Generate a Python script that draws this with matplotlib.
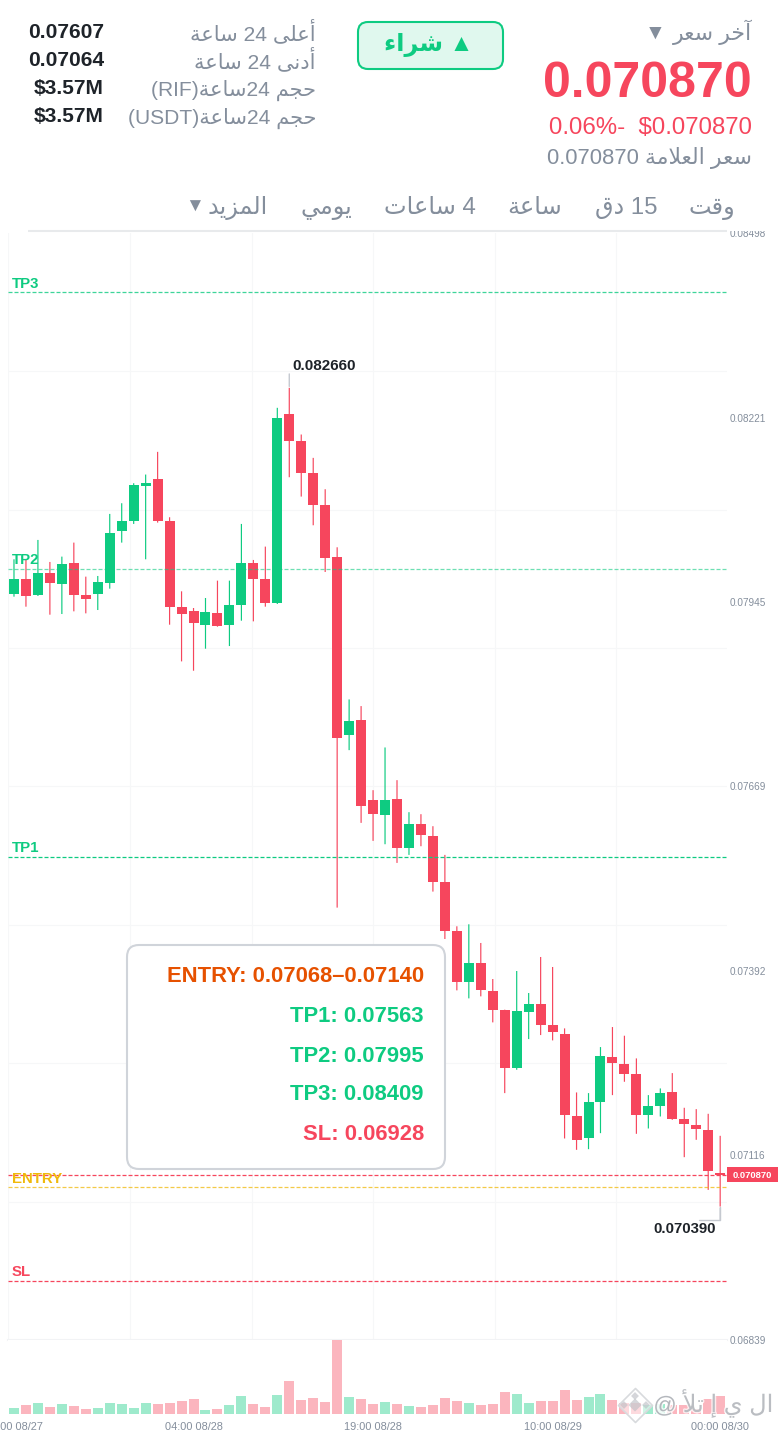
import re
import matplotlib
matplotlib.use('Agg')
import matplotlib.pyplot as plt
import matplotlib.patheffects as pe
import numpy as np
from matplotlib.patches import FancyBboxPatch
from matplotlib.transforms import Bbox, TransformedBbox, IdentityTransform

plt.rcParams['font.family'] = ['Liberation Sans', 'DejaVu Sans']

# prices in 1e-5 units, hourly candles
opens = [7957, 7979, 7955, 7989, 7972, 8003, 7955, 7957, 7974, 8052,
         8067, 8119, 8129, 8066, 7938, 7931, 7911, 7929, 7910, 7940,
         8003, 7979, 7943, 8227, 8187, 8139, 8090, 8013, 7745, 7768,
         7648, 7626, 7650, 7577, 7612, 7594, 7525, 7452, 7375, 7404,
         7362, 7333, 7247, 7331, 7343, 7311, 7298, 7175, 7141, 7196,
         7263, 7253, 7237, 7176, 7189, 7210, 7170, 7161, 7153, 7090]
closes = [7980, 7954, 7989, 7973, 8002, 7955, 7950, 7975, 8048, 8066,
          8121, 8124, 8067, 7938, 7927, 7914, 7930, 7909, 7940, 8003,
          7980, 7943, 8221, 8187, 8138, 8090, 8011, 7741, 7766, 7640,
          7628, 7649, 7576, 7612, 7596, 7526, 7452, 7376, 7404, 7363,
          7334, 7246, 7332, 7343, 7311, 7300, 7176, 7139, 7195, 7264,
          7254, 7238, 7176, 7189, 7209, 7170, 7162, 7155, 7092, 7087]
highs = [8009, 8008, 8038, 8005, 8013, 8034, 7983, 7984, 8077, 8093,
         8123, 8136, 8170, 8072, 7961, 7936, 7951, 7977, 7977, 8062,
         8008, 8028, 8236, 8266, 8196, 8161, 8114, 8027, 7799, 7789,
         7663, 7727, 7678, 7630, 7627, 7609, 7566, 7459, 7462, 7434,
         7380, 7334, 7392, 7359, 7413, 7398, 7306, 7210, 7209, 7278,
         7308, 7295, 7261, 7206, 7216, 7239, 7187, 7185, 7178, 7145]
lows = [7953, 7938, 7954, 7926, 7927, 7931, 7928, 7933, 7965, 8034,
        8062, 8009, 8064, 7911, 7856, 7842, 7875, 7908, 7879, 7917,
        7916, 7938, 7942, 8132, 8103, 8060, 7990, 7487, 7723, 7614,
        7587, 7582, 7554, 7566, 7579, 7511, 7440, 7363, 7351, 7354,
        7315, 7209, 7244, 7290, 7296, 7288, 7141, 7124, 7125, 7149,
        7206, 7226, 7148, 7156, 7174, 7169, 7113, 7139, 7064, 7039]
volumes = [5.7, 8.7, 10.7, 7.3, 10.0, 8.0, 4.7, 6.0, 10.7, 9.7,
           6.0, 11.0, 10.0, 11.3, 13.0, 14.7, 4.0, 5.3, 8.7, 18.3,
           9.7, 7.0, 19.3, 33.3, 14.0, 16.0, 12.0, 74.0, 16.7, 15.0,
           9.7, 12.0, 9.7, 7.7, 6.7, 9.3, 15.7, 13.0, 11.0, 9.0,
           10.0, 21.7, 20.0, 11.0, 12.7, 12.7, 24.0, 14.0, 16.7, 20.0,
           14.0, 10.7, 10.7, 9.0, 10.0, 8.7, 9.3, 5.3, 14.7, 18.3]

price_ticks = [0.08498, 0.08221, 0.07945, 0.07669, 0.07392, 0.07116, 0.06839]
time_idx = [0, 15, 30, 45, 59]
time_labels = ['13:00 08/27', '04:00 08/28', '19:00 08/28', '10:00 08/29', '00:00 08/30']

level_names = ['TP3', 'TP2', 'TP1', 'ENTRY', 'SL']
level_prices = [0.08409, 0.07995, 0.07563, 0.07068, 0.06928]
last_price = 0.07087

box_lines = ['ENTRY: 0.07068–0.07140', 'TP1: 0.07563', 'TP2: 0.07995', 'TP3: 0.08409', 'SL: 0.06928']

stat_labels = ['أعلى 24 ساعة', 'أدنى 24 ساعة', 'حجم 24ساعة(RIF)', 'حجم 24ساعة(USDT)']
stat_values = ['0.07607', '0.07064', '$3.57M', '$3.57M']
tab_labels = ['وقت', '15 دق', 'ساعة', '4 ساعات', 'يومي', 'المزيد']

GREEN = '#0ECB81'
RED = '#F6465D'
GOLD = '#F0B90B'
GREY = '#848E9C'
DARK = '#1E2329'
GRID = '#F6F7F8'

# forms: isolated, final, initial, medial
FORMS = {'ء': 0xFE80, 'آ': 0xFE81, 'أ': 0xFE83, 'إ': 0xFE87, 'ا': 0xFE8D, 'ب': 0xFE8F,
         'ة': 0xFE93, 'ت': 0xFE95, 'ج': 0xFE9D, 'ح': 0xFEA1, 'خ': 0xFEA5, 'د': 0xFEA9,
         'ر': 0xFEAD, 'ز': 0xFEAF, 'س': 0xFEB1, 'ش': 0xFEB5, 'ع': 0xFEC9, 'ق': 0xFED5,
         'ل': 0xFEDD, 'م': 0xFEE1, 'ن': 0xFEE5, 'و': 0xFEED, 'ى': 0xFEEF, 'ي': 0xFEF1}
NO_NEXT = set('ءآأإادرزوةى')
LAM_ALEF = {'ا': 0xFEFB, 'أ': 0xFEF7, 'آ': 0xFEF5, 'إ': 0xFEF9}


def shape_word(word):
    out = []
    i = 0
    prev_joins = False
    while i < len(word):
        ch = word[i]
        nxt = word[i + 1] if i + 1 < len(word) else ''
        if ch == 'ل' and nxt in LAM_ALEF:
            out.append(chr(LAM_ALEF[nxt] + (1 if prev_joins else 0)))
            prev_joins = False
            i += 2
            continue
        joins_next = ch not in NO_NEXT and nxt in FORMS
        if prev_joins and joins_next:
            code = FORMS[ch] + 3
        elif joins_next:
            code = FORMS[ch] + 2
        elif prev_joins:
            code = FORMS[ch] + 1
        else:
            code = FORMS[ch]
        out.append(chr(code))
        prev_joins = joins_next
        i += 1
    return ''.join(out)


def ar(text):
    # matplotlib does no shaping or bidi, so give it the visual order
    runs = re.findall(r'[\u0621-\u064A ]+|[^\u0621-\u064A ]+', text)
    result = []
    for run in reversed(runs):
        if re.match(r'[\u0621-\u064A ]', run):
            words = re.split(r'( +)', run)
            result.append(''.join(shape_word(w) if w.strip() else w for w in words)[::-1])
        else:
            result.append(run)
    return ''.join(result)


def px(size):
    return size * 0.72


W, H = 780, 1432
fig = plt.figure(figsize=(W / 100, H / 100), dpi=100, facecolor='white')


def axes_px(x0, y0, x1, y1):
    return fig.add_axes([x0 / W, 1 - y1 / H, (x1 - x0) / W, (y1 - y0) / H])


opens_p = np.array(opens) / 1e5
closes_p = np.array(closes) / 1e5
highs_p = np.array(highs) / 1e5
lows_p = np.array(lows) / 1e5
idx = np.arange(len(opens))
up = [c >= o for o, c in zip(opens, closes)]
colors = [GREEN if u else RED for u in up]

x_lim = (-0.5, 59.57)

ax = axes_px(8, 233, 727, 1340)
ax.set_xlim(x_lim)
ax.set_ylim(0.06839, 0.08498)
for s in ax.spines.values():
    s.set_visible(False)
ax.set_xticks([])
ax.set_xticks([-0.5, 9.69, 19.88, 30.03, 40.2, 50.3], minor=True)
ax.set_yticks(np.linspace(0.06839, 0.08498, 9), minor=True)
ax.grid(which='minor', color=GRID, lw=0.8, zorder=0)
ax.tick_params(which='minor', length=0)
ax.yaxis.tick_right()
ax.set_yticks(price_ticks)
ax.set_yticklabels([f'{p:.5f}' for p in price_ticks], fontsize=px(10), color=GREY)
ax.tick_params(axis='y', which='major', length=0, pad=2)
ax.set_axisbelow(True)
ax.axhline(0.06839, color='#F2F3F5', lw=1.5, clip_on=False, zorder=1)

# top label is cut by the tab bar
top_clip = TransformedBbox(Bbox([[0, 0], [W, H - 231]]), IdentityTransform())
for tick in ax.yaxis.get_major_ticks():
    tick.label2.set_clip_box(top_clip)
    tick.label2.set_clip_on(True)

wicks = ax.vlines(idx, lows_p, highs_p, colors=colors, lw=0.85, zorder=2)
wicks.set_snap(False)
ax.bar(idx, np.abs(closes_p - opens_p), bottom=np.minimum(opens_p, closes_p),
       width=0.835, color=colors, lw=0, zorder=3)

level_colors = [GREEN, GREEN, GREEN, GOLD, RED]
level_alpha = [0.8, 0.6, 1.0, 0.75, 1.0]
for name, price, col, a in zip(level_names, level_prices, level_colors, level_alpha):
    ax.axhline(price, color=col, alpha=a, lw=0.9, dashes=(3.2, 1.6), zorder=4)
    ax.annotate(name, xy=(0, price), xycoords=ax.get_yaxis_transform(), xytext=(2.9, 3.2),
                textcoords='offset points', color=col, fontsize=px(15), fontweight='bold',
                va='baseline', ha='left', zorder=5)
ax.axhline(last_price, color=RED, lw=0.9, dashes=(3.2, 1.6), zorder=4)

# high / low markers
hi_i = int(np.argmax(highs))
lo_i = int(np.argmin(lows))
ax.annotate('', xy=(hi_i, highs_p[hi_i]), xytext=(0, 10), textcoords='offset points',
            arrowprops=dict(arrowstyle='-', color='#C5C9D0', lw=1, shrinkA=0, shrinkB=1))
ax.annotate(f'{highs_p[hi_i]:.6f}', xy=(hi_i, highs_p[hi_i]), xytext=(2.5, 10.5), textcoords='offset points',
            fontsize=px(15.2), fontweight='bold', color=DARK, va='bottom', ha='left')
ax.annotate('', xy=(lo_i, lows_p[lo_i]), xytext=(0, -10), textcoords='offset points',
            arrowprops=dict(arrowstyle='-', color='#C5C9D0', lw=1, shrinkA=0, shrinkB=1))
ax.annotate('', xy=(lo_i, lows_p[lo_i]), xycoords='data', xytext=(-15, -10), textcoords='offset points',
            arrowprops=dict(arrowstyle='-', color='#C5C9D0', lw=1, shrinkA=0, shrinkB=0,
                            connectionstyle='angle,angleA=0,angleB=90,rad=0'))
ax.annotate(f'{lows_p[lo_i]:.6f}', xy=(lo_i, lows_p[lo_i]), xytext=(-3, -11), textcoords='offset points',
            fontsize=px(15), fontweight='bold', color=DARK, va='top', ha='right')

# volume
vax = axes_px(8, 1340, 727, 1414)
vax.set_xlim(x_lim)
vax.set_ylim(0, max(volumes))
vax.bar(idx, volumes, width=0.835, color=colors, alpha=0.4, lw=0)
vax.set_yticks([])
vax.set_xticks(time_idx)
vax.set_xticklabels(time_labels, fontsize=px(11), color=GREY)
vax.tick_params(axis='x', length=0, pad=5.7)
for s in vax.spines.values():
    s.set_visible(False)

# everything else is placed in pixels of the page
ov = fig.add_axes([0, 0, 1, 1], zorder=10)
ov.set_xlim(0, W)
ov.set_ylim(H, 0)
ov.axis('off')
ov.patch.set_alpha(0)

# header, right block
ov.text(752, 40, ar('آخر سعر'), ha='right', va='baseline', fontsize=px(22), color=GREY)
ov.text(655, 33, '▼', ha='center', va='center', fontsize=px(21), color=GREY)
ov.text(752, 97, '0.070870', ha='right', va='baseline', fontsize=px(50), fontweight='bold', color=RED)
ov.text(752, 134, '0.06%-  $0.070870', ha='right', va='baseline', fontsize=px(24), color=RED)
ov.text(752, 164, '0.070870 ' + ar('سعر العلامة'), ha='right', va='baseline', fontsize=px(22), color=GREY)

# buy button
ov.add_patch(FancyBboxPatch((358, 22), 145, 47, boxstyle='round,pad=0,rounding_size=10',
                            fc='#E0F8EE', ec=GREEN, lw=1.5))
ov.text(429, 45, ar('شراء') + ' ▲', ha='center', va='center', fontsize=px(24), fontweight='bold', color=GREEN)

# left stats
for i, (lab, val) in enumerate(zip(stat_labels, stat_values)):
    ov.text(316, 40 + 28 * i, ar(lab), ha='right', va='baseline', fontsize=px(21), color=GREY)
    ov.text(104, 38 + 28 * i, val, ha='right', va='baseline', fontsize=px(21), fontweight='bold', color=DARK)

# tabs
tab_pos = [712, 626, 535, 430, 326, 238]
for lab, x in zip(tab_labels, tab_pos):
    ov.text(x, 214, ar(lab), ha='center', va='baseline', fontsize=px(24), color=GREY)
ov.text(195, 207, '▼', ha='center', va='center', fontsize=px(19), color=GREY)
ov.plot([28, 727], [231, 231], color='#E8EAEC', lw=1.5, solid_capstyle='butt')

# price tag
ov.add_patch(FancyBboxPatch((727, 1167), 51, 15, boxstyle='square,pad=0', fc=RED, ec='none'))
ov.text(752.5, 1175, f'{last_price:.6f}', ha='center', va='center', fontsize=px(9.5), fontweight='bold', color='white')

# info box
ov.add_patch(FancyBboxPatch((127, 945), 318, 224, boxstyle='round,pad=0,rounding_size=12',
                            fc='white', ec='#D0D4DA', lw=1.5, zorder=6))
box_colors = ['#E65100', GREEN, GREEN, GREEN, RED]
box_y = [982, 1022, 1062, 1100, 1140]
for line, col, y in zip(box_lines, box_colors, box_y):
    ov.text(424, y, line, ha='right', va='baseline', fontsize=px(22), fontweight='bold', color=col, zorder=7)

# watermark
halo = [pe.withStroke(linewidth=2, foreground=(1, 1, 1, 0.7))]
ov.scatter([635], [1405], marker='D', s=300, fc=(1, 1, 1, 0.5), ec='#D8DADD', lw=1.2, zorder=8)
ov.scatter([635, 624, 646, 635], [1405, 1405, 1405, 1396], marker='D', s=[45, 16, 16, 16],
           fc='#B9BCC2', alpha=0.6, lw=0, zorder=9)
ov.text(665, 1406, '@', ha='center', va='center', fontsize=px(23), color='#A9ADB3', alpha=0.85,
        path_effects=halo, zorder=9)
ov.text(773, 1412, ar('ال ي إ تلأ'), ha='right', va='baseline', fontsize=px(24), color='#A9ADB3', alpha=0.75,
        path_effects=halo, zorder=9)

fig.savefig('out.png', dpi=100, facecolor='white')
